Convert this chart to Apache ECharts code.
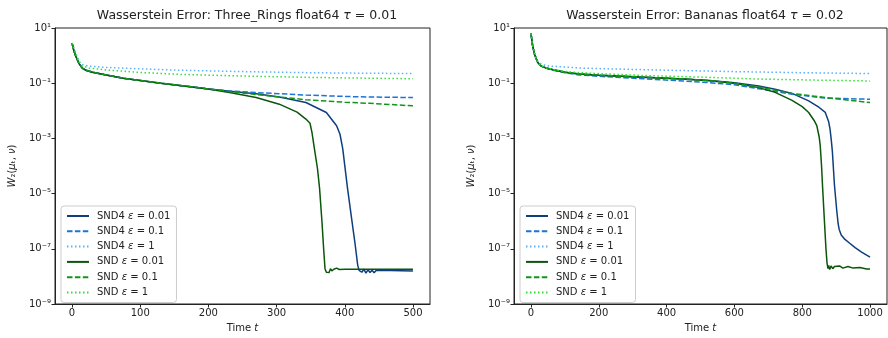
<!DOCTYPE html>
<html>
<head>
<meta charset="utf-8">
<script src="https://cdn.jsdelivr.net/npm/echarts@6/dist/echarts.min.js"></script>
<style>
  html, body { margin: 0; padding: 0; background: #fff; }
  #chart { width: 888px; height: 338px; }
</style>
</head>
<body>
<div id="chart"></div>
<script>
// values are read as log10 of W2 off the log axis

// Three_Rings, tau = 0.01
const ringsSnd4E001T = [0, 3, 6, 10, 15, 20, 30, 50, 75, 100, 130, 158, 197, 231, 270, 304, 343, 373, 388, 393, 397, 404, 410, 415, 419, 421, 423, 425, 428, 431, 434, 437, 440, 443, 446, 450, 500];
const ringsSnd4E001 = [0.45, 0.15, -0.05, -0.28, -0.45, -0.53, -0.6, -0.70, -0.82, -0.9, -1.0, -1.08, -1.2, -1.29, -1.38, -1.5, -1.70, -2.06, -2.54, -2.85, -3.37, -4.8, -5.9, -6.8, -7.6, -7.78, -7.72, -7.85, -7.74, -7.88, -7.76, -7.86, -7.78, -7.87, -7.79, -7.78, -7.8];
const ringsSnd4E01T = [0, 3, 6, 10, 15, 20, 30, 50, 75, 100, 130, 158, 197, 231, 270, 304, 343, 400, 437, 500];
const ringsSnd4E01 = [0.45, 0.15, -0.05, -0.28, -0.45, -0.53, -0.6, -0.70, -0.82, -0.9, -1.0, -1.08, -1.2, -1.28, -1.34, -1.38, -1.43, -1.48, -1.50, -1.52];
const ringsSnd4E1T = [0, 5, 10, 15, 25, 50, 100, 158, 250, 350, 437, 500];
const ringsSnd4E1 = [0.45, 0.12, -0.2, -0.33, -0.38, -0.43, -0.48, -0.53, -0.58, -0.62, -0.64, -0.65];
const ringsSndE001T = [0, 3, 6, 10, 15, 20, 30, 50, 75, 100, 130, 158, 197, 231, 270, 304, 330, 343, 349, 352, 355, 360, 363, 366.5, 369, 371, 373, 375, 377, 379, 381, 384, 388, 392, 400, 500];
const ringsSndE001 = [0.45, 0.15, -0.05, -0.28, -0.45, -0.53, -0.6, -0.70, -0.82, -0.9, -1.0, -1.08, -1.2, -1.34, -1.52, -1.76, -2.05, -2.30, -2.45, -2.8, -3.3, -4.1, -4.8, -6.0, -7.0, -7.72, -7.85, -7.78, -7.86, -7.72, -7.8, -7.74, -7.7, -7.75, -7.74, -7.74];
const ringsSndE01T = [0, 3, 6, 10, 15, 20, 30, 50, 75, 100, 130, 158, 197, 231, 270, 304, 343, 400, 437, 500];
const ringsSndE01 = [0.45, 0.15, -0.05, -0.28, -0.45, -0.53, -0.6, -0.70, -0.82, -0.9, -1.0, -1.08, -1.2, -1.3, -1.41, -1.50, -1.6, -1.69, -1.73, -1.82];
const ringsSndE1T = [0, 5, 10, 15, 25, 50, 100, 158, 250, 350, 437, 500];
const ringsSndE1 = [0.45, 0.1, -0.22, -0.38, -0.45, -0.52, -0.61, -0.68, -0.74, -0.79, -0.82, -0.84];

// Bananas, tau = 0.02
const banSnd4E001T = [0, 5, 11, 20, 30, 45, 65, 100, 143, 200, 331, 450, 527, 600, 672, 720, 770, 819, 850, 868, 878, 882, 886, 889, 895, 902, 906, 909, 915, 926, 940, 956, 975, 1000];
const banSnd4E001 = [0.81, 0.35, 0.03, -0.25, -0.38, -0.45, -0.51, -0.6, -0.67, -0.71, -0.78, -0.85, -0.9, -0.98, -1.1, -1.22, -1.37, -1.64, -1.88, -2.06, -2.4, -2.66, -3.1, -3.49, -4.69, -5.64, -6.1, -6.3, -6.5, -6.66, -6.8, -6.96, -7.12, -7.3];
const banSnd4E01T = [0, 5, 11, 20, 30, 45, 65, 100, 143, 200, 331, 450, 527, 600, 672, 770, 868, 1000];
const banSnd4E01 = [0.81, 0.35, 0.03, -0.25, -0.38, -0.46, -0.53, -0.62, -0.70, -0.75, -0.84, -0.92, -0.98, -1.06, -1.2, -1.4, -1.54, -1.58];
const banSnd4E1T = [0, 5, 11, 20, 30, 45, 65, 143, 200, 400, 600, 800, 1000];
const banSnd4E1 = [0.81, 0.35, 0.05, -0.2, -0.3, -0.36, -0.39, -0.45, -0.47, -0.53, -0.58, -0.62, -0.65];
const banSndE001T = [0, 5, 11, 20, 30, 45, 65, 100, 143, 200, 331, 450, 527, 600, 672, 720, 770, 800, 819, 835, 843, 850, 853, 857, 860, 866, 870, 873, 876, 878, 881, 885, 890, 895, 900, 910, 920, 935, 950, 970, 990, 1000];
const banSndE001 = [0.81, 0.35, 0.03, -0.25, -0.38, -0.45, -0.51, -0.6, -0.67, -0.71, -0.78, -0.85, -0.91, -1.0, -1.16, -1.33, -1.62, -1.85, -2.06, -2.35, -2.54, -2.95, -3.25, -4.0, -4.75, -6.12, -7.0, -7.5, -7.72, -7.6, -7.75, -7.62, -7.72, -7.64, -7.7, -7.62, -7.7, -7.64, -7.7, -7.68, -7.73, -7.73];
const banSndE01T = [0, 5, 11, 20, 30, 45, 65, 100, 143, 200, 331, 450, 527, 600, 672, 770, 868, 1000];
const banSndE01 = [0.81, 0.35, 0.03, -0.25, -0.38, -0.45, -0.51, -0.6, -0.67, -0.71, -0.78, -0.85, -0.91, -1.0, -1.14, -1.37, -1.52, -1.70];
const banSndE1T = [0, 5, 11, 20, 30, 45, 65, 100, 143, 215, 331, 527, 672, 850, 1000];
const banSndE1 = [0.81, 0.35, 0.03, -0.25, -0.37, -0.44, -0.5, -0.57, -0.62, -0.66, -0.72, -0.79, -0.85, -0.89, -0.92];

const seriesNames = ["SND4 ε = 0.01", "SND4 ε = 0.1", "SND4 ε = 1", "SND ε = 0.01", "SND ε = 0.1", "SND ε = 1"];
const seriesColors = ["#0e3f7c", "#1c74d4", "#5cb0fb", "#0b560b", "#12961a", "#2fe02f"];
const seriesDash = ["solid", [5.5, 2.4], [1.5, 2.5], "solid", [5.5, 2.4], [1.5, 2.5]];
const ringsTicks = [0, 100, 200, 300, 400, 500];
const banTicks = [0, 200, 400, 600, 800, 1000];

const FONT = "DejaVu Sans";
const INK = "#222";

const toPoints = (t, lg) => t.map((x, i) => [x, Math.pow(10, lg[i])]);

const SUP = { "-": "⁻", "0": "⁰", "1": "¹", "2": "²", "3": "³", "4": "⁴", "5": "⁵", "6": "⁶", "7": "⁷", "8": "⁸", "9": "⁹" };
function powLabel(v) {
  const e = Math.round(Math.log10(v));
  return "10" + String(e).split("").map((c) => SUP[c]).join("");
}

const ringsData = [
  toPoints(ringsSnd4E001T, ringsSnd4E001), toPoints(ringsSnd4E01T, ringsSnd4E01), toPoints(ringsSnd4E1T, ringsSnd4E1),
  toPoints(ringsSndE001T, ringsSndE001), toPoints(ringsSndE01T, ringsSndE01), toPoints(ringsSndE1T, ringsSndE1),
];
const banData = [
  toPoints(banSnd4E001T, banSnd4E001), toPoints(banSnd4E01T, banSnd4E01), toPoints(banSnd4E1T, banSnd4E1),
  toPoints(banSndE001T, banSndE001), toPoints(banSndE01T, banSndE01), toPoints(banSndE1T, banSndE1),
];

function makeSeries(dataSets, axis) {
  return dataSets.map((d, i) => ({
    name: seriesNames[i],
    type: "line",
    xAxisIndex: axis,
    yAxisIndex: axis,
    data: d,
    symbol: "none",
    showSymbol: false,
    silent: true,
    itemStyle: { color: seriesColors[i] },
    lineStyle: { color: seriesColors[i], width: 1.5, type: seriesDash[i] },
  }));
}

function xAxisOf(idx, min, max, ticks) {
  return {
    type: "value",
    gridIndex: idx,
    min: min,
    max: max,
    name: "Time {i|t}",
    nameLocation: "middle",
    nameGap: 19,
    nameTextStyle: { fontFamily: FONT, fontSize: 10, color: INK, rich: { i: { fontStyle: "italic", fontFamily: FONT, fontSize: 10, color: INK } } },
    axisLine: { show: true, onZero: false, lineStyle: { color: INK, width: 1 } },
    axisTick: { show: true, length: 3.5, lineStyle: { color: INK }, customValues: ticks },
    axisLabel: { fontFamily: FONT, fontSize: 10, color: INK, margin: 4, customValues: ticks, formatter: (v) => String(v) },
    splitLine: { show: false },
  };
}

function yAxisOf(idx) {
  return {
    type: "log",
    logBase: 10,
    gridIndex: idx,
    min: 1e-9,
    max: 10,
    interval: 2,
    name: "{i|W}₂({i|μ}ₜ, {i|ν})",
    nameLocation: "middle",
    nameGap: 38,
    nameRotate: 90,
    nameTextStyle: { fontFamily: FONT, fontSize: 10, color: INK, rich: { i: { fontStyle: "italic", fontFamily: FONT, fontSize: 10, color: INK } } },
    axisLine: { show: true, onZero: false, lineStyle: { color: INK, width: 1 } },
    axisTick: { show: true, length: 3.5, lineStyle: { color: INK } },
    axisLabel: { fontFamily: FONT, fontSize: 10, color: INK, margin: 4, formatter: powLabel },
    minorTick: { show: false },
    splitLine: { show: false },
  };
}

function legendOf(left) {
  return {
    left: left,
    top: 206,
    orient: "vertical",
    data: seriesNames,
    itemWidth: 22,
    itemHeight: 10,
    itemGap: 5.3,
    padding: [5, 6, 5, 5],
    borderColor: "#cccccc",
    borderWidth: 1,
    borderRadius: 3,
    backgroundColor: "rgba(255,255,255,0.8)",
    selectedMode: false,
    itemStyle: { opacity: 0, borderWidth: 0 },
    formatter: (n) => n.replace("ε", "{i|ε}"),
    textStyle: {
      fontFamily: FONT, fontSize: 10, color: INK, padding: [0, 0, 0, 3],
      rich: { i: { fontStyle: "italic", fontFamily: FONT, fontSize: 10, color: INK } },
    },
  };
}

function titleOf(center, text) {
  return {
    text: text,
    left: center,
    top: 4,
    textAlign: "center",
    textStyle: {
      fontFamily: FONT, fontSize: 12.5, fontWeight: "normal", color: INK,
      rich: { i: { fontStyle: "italic", fontFamily: FONT, fontSize: 12.5, color: INK } },
    },
  };
}

const chart = echarts.init(document.getElementById("chart"), null, { renderer: "canvas" });
chart.setOption({
  animation: false,
  backgroundColor: "#ffffff",
  title: [
    titleOf(242, "Wasserstein Error: Three_Rings float64 {i|τ} = 0.01"),
    titleOf(700, "Wasserstein Error: Bananas float64 {i|τ} = 0.02"),
  ],
  legend: [legendOf(61), legendOf(520)],
  grid: [
    { left: 55, right: 458, top: 28, bottom: 31, show: true, borderColor: INK, borderWidth: 1, containLabel: false },
    { left: 514, right: 1, top: 28, bottom: 31, show: true, borderColor: INK, borderWidth: 1, containLabel: false },
  ],
  xAxis: [xAxisOf(0, -25, 525, ringsTicks), xAxisOf(1, -50, 1050, banTicks)],
  yAxis: [yAxisOf(0), yAxisOf(1)],
  series: makeSeries(ringsData, 0).concat(makeSeries(banData, 1)),
});
</script>
</body>
</html>
